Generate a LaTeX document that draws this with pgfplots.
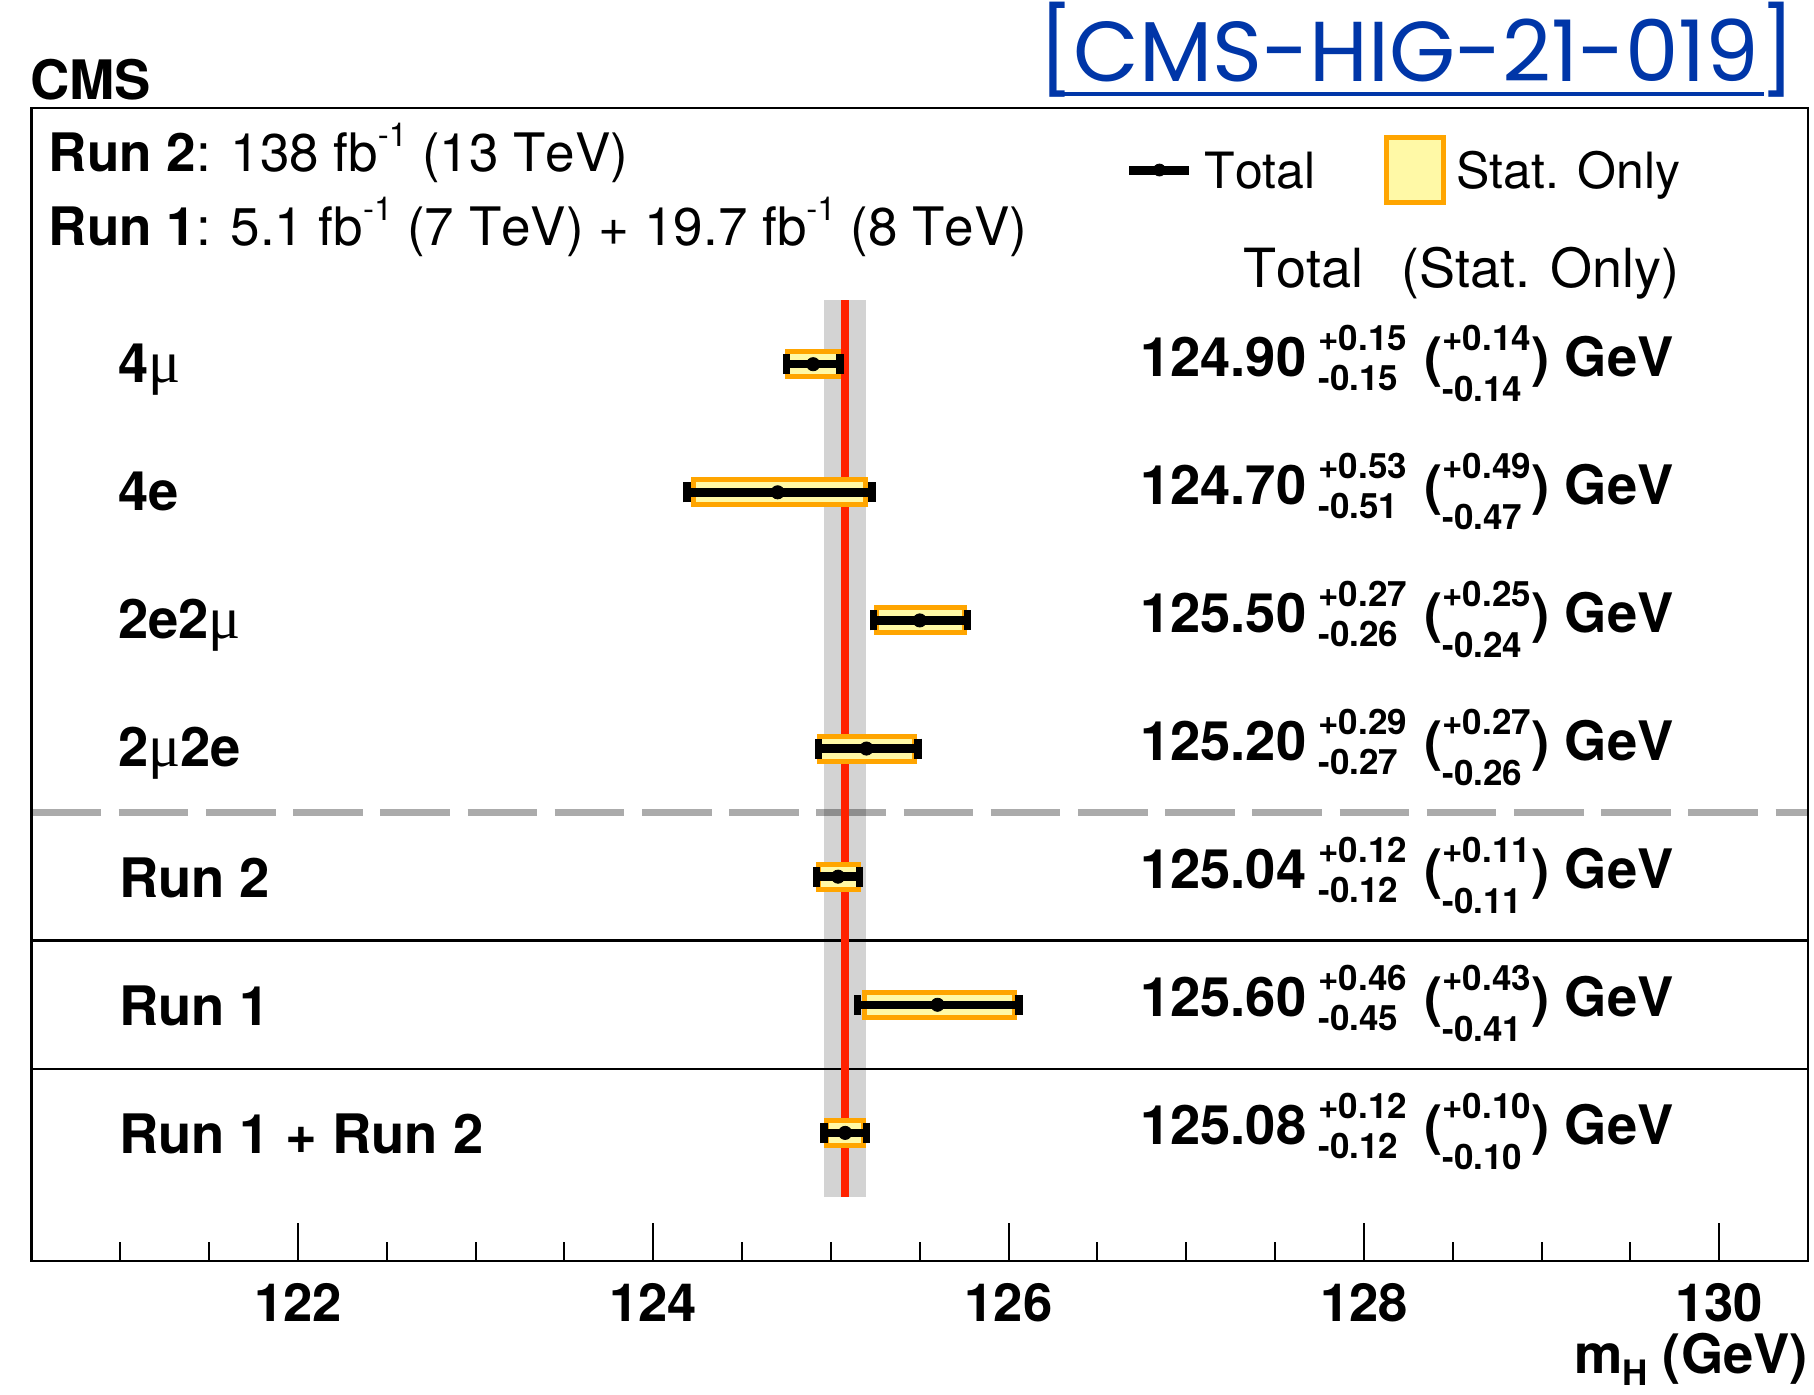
\documentclass[border=0pt]{standalone}
\usepackage{fontspec}
\setmainfont{TeX Gyre Heros}[Kerning=Off]
\newfontfamily\mufont{Liberation Serif}
\newfontfamily\linkfont{Poppins}
\usepackage{pgfplots}
\usepackage{pgfplotstable}
\pgfplotsset{compat=1.18}

\definecolor{statorange}{HTML}{FFA500}
\definecolor{statyellow}{HTML}{FFF9A6}
\definecolor{bandgray}{HTML}{D3D3D3}
\definecolor{linered}{HTML}{FF2200}
\definecolor{linkblue}{HTML}{0036A8}

\newcommand\mainsize{\fontsize{27.2}{30}\selectfont}
\newcommand\hdrsize{\fontsize{26.5}{30}\selectfont}
\newcommand\scrsize{\fontsize{17.5}{19}\selectfont}
\newcommand\supsize{\fontsize{16.5}{18}\selectfont}
\newcommand\mmu{{\mufont\mdseries\fontsize{30}{30}\selectfont μ}}
\newcommand\sups[1]{\raisebox{12.5pt}{\supsize #1}}

% stacked upper/lower uncertainties: {upper}{lower}{raise}{lower by}
\newcommand\updn[4]{%
  \begingroup\scrsize\bfseries
  \setbox0=\hbox{#1}\setbox2=\hbox{#2}%
  \dimen0=\wd0 \ifdim\wd2>\dimen0 \dimen0=\wd2 \fi
  \rlap{\raise#3\box0}\rlap{\lower#4\box2}\kern\dimen0
  \endgroup}
% value, total up, total down, stat up, stat down
\newcommand\mval[5]{%
  \textbf{#1}\kern6pt\updn{+#2}{-#3}{13pt}{7pt}\kern8.7pt
  \textbf{(}\updn{+#4}{-#5}{13pt}{12.5pt}\kern0.3pt\textbf{)} \textbf{GeV}}

% measured Higgs boson mass per channel and per run (GeV)
\pgfplotstableread{
y  mh      totup totdn statup statdn
7  124.90  0.15  0.15  0.14   0.14
6  124.70  0.53  0.51  0.49   0.47
5  125.50  0.27  0.26  0.25   0.24
4  125.20  0.29  0.27  0.27   0.26
3  125.04  0.12  0.12  0.11   0.11
2  125.60  0.46  0.45  0.43   0.41
1  125.08  0.12  0.12  0.10   0.10
}\mhtable

\begin{document}
\begin{tikzpicture}
\path[use as bounding box] (-15.75pt,-67pt) rectangle (891.25pt,630.5pt);
\begin{axis}[
  scale only axis, width=888.25pt, height=576.5pt,
  xmin=120.5, xmax=130.5, ymin=0, ymax=9,
  xtick={122,124,126,128,130},
  minor xtick={121,121.5,...,130},
  ytick=\empty,
  tick align=inside, xtick pos=left,
  major tick length=19pt, minor tick length=9.4pt,
  tick style={black, line width=1pt},
  axis line style={line width=1.3pt},
  xticklabel style={font=\fontsize{26.3}{26}\selectfont\bfseries, anchor=base, yshift=-30.5pt},
  /pgf/number format/assume math mode=true,
  legend columns=2,
  legend cell align=left,
  legend style={draw=none, fill=none, at={(0.6155,0.9462)}, anchor=west,
    inner sep=0pt, outer sep=0pt,
    nodes={inner sep=0pt, text depth=0pt, font=\fontsize{25}{25}\selectfont},
    /tikz/every odd column/.append style={column sep=5.3pt},
    /tikz/every even column/.append style={column sep=34pt}},
]
\addlegendimage{legend image code/.code={
  \draw[black, line width=4.5pt] (0pt,0pt) -- (30pt,0pt);
  \fill[black] (15pt,0pt) circle (3pt);}}
\addlegendentry{Total}
\addlegendimage{legend image code/.code={
  \draw[statorange, fill=statyellow, line width=2.5pt] (1.25pt,-16.25pt) rectangle (29.75pt,16.25pt);}}
\addlegendentry{Stat. Only}

% combined result: 125.08 +- 0.12 GeV
\addplot[forget plot, draw=none, fill=bandgray]
  coordinates {(124.96,0.5) (125.20,0.5) (125.20,7.5) (124.96,7.5)} --cycle;
\addplot[forget plot, black, opacity=0.33, line width=3.3pt, dash pattern=on 34.85pt off 8.75pt]
  coordinates {(120.5,3.5) (130.5,3.5)};
\addplot[forget plot, black, line width=1.3pt] coordinates {(120.5,2.5) (130.5,2.5)};
\addplot[forget plot, black, line width=1.3pt] coordinates {(120.5,1.5) (130.5,1.5)};
\addplot[forget plot, linered, line width=4pt] coordinates {(125.08,0.5) (125.08,7.5)};

% statistical-only intervals: orange frame, yellow fill
\addplot[forget plot, only marks, mark=none,
  error bars/.cd, x dir=both, x explicit, error mark=none,
  error bar style={draw=statorange, line width=15pt, shorten >=-1.5pt}]
  table[x=mh, y=y, x error plus=statup, x error minus=statdn] {\mhtable};
\addplot[forget plot, only marks, mark=none,
  error bars/.cd, x dir=both, x explicit, error mark=none,
  error bar style={draw=statyellow, line width=10pt, shorten >=1pt}]
  table[x=mh, y=y, x error plus=statup, x error minus=statdn] {\mhtable};
% total uncertainties
\addplot[forget plot, only marks, mark=*, mark size=3.3pt, black,
  mark options={draw=black, fill=black},
  error bars/.cd, x dir=both, x explicit, error mark=|,
  error bar style={draw=black, line width=4.25pt},
  error mark options={draw=black, line width=3.75pt, mark size=5pt}]
  table[x=mh, y=y, x error plus=totup, x error minus=totdn] {\mhtable};
\end{axis}

\begin{scope}[shift={(-15.75pt,630.5pt)},x=0.5pt,y=-0.5pt,
  every node/.style={inner sep=0pt, outer sep=0pt}]
\node[anchor=base west, font=\mainsize\bfseries] at (30,99.3) {CMS};
\node[anchor=base west, font=\linkfont\fontsize{42.5}{43}\selectfont, text=linkblue] at (1038,82) {[CMS-HIG-21-019]};
\draw[linkblue, line width=2pt] (1062,94) -- (1764,94);

\node[anchor=base west, font=\hdrsize] at (49,172) {\textbf{Run 2}: 138 fb\sups{-1} (13 TeV)};
\node[anchor=base west, font=\hdrsize] at (49,246) {\textbf{Run 1}: 5.1 fb\sups{-1} (7 TeV) + 19.7 fb\sups{-1} (8 TeV)};

\node[anchor=base west, font=\fontsize{27}{27}\selectfont] at (1243,288) {Total};
\node[anchor=base west, font=\fontsize{27}{27}\selectfont] at (1401,288) {(Stat. Only)};

\node[anchor=base west, font=\mainsize\bfseries] at (118,382.3) {4\mmu};
\node[anchor=base west, font=\mainsize\bfseries] at (118,510.4) {4e};
\node[anchor=base west, font=\mainsize\bfseries] at (118,638.5) {2e2\mmu};
\node[anchor=base west, font=\mainsize\bfseries] at (118,766.6) {2\mmu2e};
\node[anchor=base west, font=\mainsize\bfseries] at (119,897.7) {Run 2};
\node[anchor=base west, font=\mainsize\bfseries] at (119,1025.8) {Run 1};
\node[anchor=base west, font=\mainsize\bfseries] at (119,1153.9) {Run 1 + Run 2};

\node[anchor=base west, font=\mainsize] at (1140,376.3) {\mval{124.90}{0.15}{0.15}{0.14}{0.14}};
\node[anchor=base west, font=\mainsize] at (1140,504.4) {\mval{124.70}{0.53}{0.51}{0.49}{0.47}};
\node[anchor=base west, font=\mainsize] at (1140,632.5) {\mval{125.50}{0.27}{0.26}{0.25}{0.24}};
\node[anchor=base west, font=\mainsize] at (1140,760.6) {\mval{125.20}{0.29}{0.27}{0.27}{0.26}};
\node[anchor=base west, font=\mainsize] at (1140,888.7) {\mval{125.04}{0.12}{0.12}{0.11}{0.11}};
\node[anchor=base west, font=\mainsize] at (1140,1016.8) {\mval{125.60}{0.46}{0.45}{0.43}{0.41}};
\node[anchor=base west, font=\mainsize] at (1140,1144.9) {\mval{125.08}{0.12}{0.12}{0.10}{0.10}};

\node[anchor=base east, font=\mainsize\bfseries] at (1808,1374) {m\raisebox{-6pt}{\scrsize H} (GeV)};
\end{scope}
\end{tikzpicture}
\end{document}
